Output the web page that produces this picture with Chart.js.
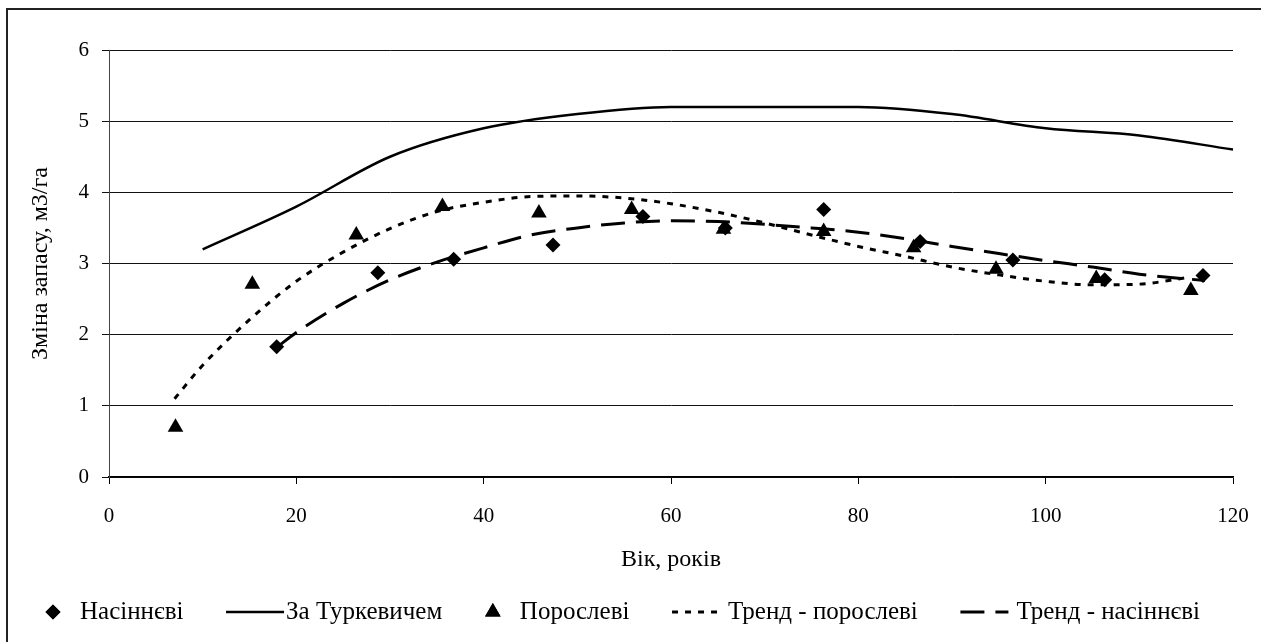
<!DOCTYPE html>
<html>
<head>
<meta charset="utf-8">
<script src="https://cdn.jsdelivr.net/npm/chart.js@4"></script>
<style>
    html, body { margin: 0; padding: 0; background: #fff; }
    #wrap { width: 1261px; height: 642px; position: relative; }
</style>
</head>
<body>
<div id="wrap"><canvas id="chart" width="1261" height="642"></canvas></div>
<script>
// Насіннєві (seed origin) - observed points
const seedAge = [17.9, 28.7, 36.8, 47.4, 57.0, 65.8, 76.3, 86.6, 96.5, 106.3, 116.8];
const seedVal = [1.83, 2.87, 3.06, 3.26, 3.66, 3.50, 3.76, 3.31, 3.05, 2.77, 2.83];

// Порослеві (coppice origin) - observed points
const coppAge = [7.1, 15.3, 26.4, 35.6, 45.9, 55.8, 65.6, 76.3, 85.9, 94.7, 105.4, 115.5];
const coppVal = [0.70, 2.71, 3.40, 3.80, 3.71, 3.76, 3.48, 3.45, 3.22, 2.92, 2.79, 2.62];

// За Туркевичем
const turkAge = [10, 20, 30, 40, 50, 60, 70, 80, 90, 100, 110, 120];
const turkVal = [3.2, 3.8, 4.5, 4.9, 5.1, 5.2, 5.2, 5.2, 5.1, 4.9, 4.8, 4.6];

// Тренд - порослеві
const trendCoppAge = [7, 10, 15, 20, 25, 30, 35, 40, 45, 50, 55, 60, 65, 70, 75, 80, 85, 90, 95, 100, 105, 110, 115];
const trendCoppVal = [1.10, 1.57, 2.21, 2.75, 3.16, 3.49, 3.73, 3.86, 3.94, 3.95, 3.92, 3.84, 3.72, 3.57, 3.40, 3.24, 3.10, 2.95, 2.84, 2.75, 2.70, 2.71, 2.80];

// Тренд - насіннєві
const trendSeedAge = [18, 20, 25, 30, 35, 40, 45, 50, 55, 60, 65, 70, 75, 80, 85, 90, 95, 100, 105, 110, 117];
const trendSeedVal = [1.83, 2.03, 2.44, 2.77, 3.02, 3.22, 3.40, 3.50, 3.57, 3.60, 3.59, 3.55, 3.50, 3.44, 3.35, 3.24, 3.14, 3.04, 2.95, 2.85, 2.76];

const xTicks = [0, 20, 40, 60, 80, 100, 120];
const yTicks = [0, 1, 2, 3, 4, 5, 6];

const FONT = "'Liberation Serif', 'Times New Roman', serif";

function toPoints(xs, ys) {
    return xs.map((x, i) => ({ x: x, y: ys[i] }));
}

// White background and the partial outer frame (left + top)
const framePlugin = {
    id: 'frame',
    beforeDraw(chart) {
        const ctx = chart.ctx;
        ctx.save();
        ctx.fillStyle = '#fff';
        ctx.fillRect(0, 0, chart.width, chart.height);
        ctx.strokeStyle = '#222';
        ctx.lineWidth = 2;
        ctx.beginPath();
        ctx.moveTo(7, chart.height);
        ctx.lineTo(7, 9);
        ctx.lineTo(chart.width, 9);
        ctx.stroke();
        ctx.restore();
    }
};

// Legend drawn by hand so markers and line samples can have different widths
const legendPlugin = {
    id: 'rowLegend',
    afterDraw(chart) {
        const ctx = chart.ctx;
        const y = 612;
        const left = 45, right = 1200;
        ctx.save();
        ctx.font = '25px ' + FONT;
        ctx.textBaseline = 'middle';
        ctx.fillStyle = '#000';

        const items = chart.data.datasets.map(ds => {
            const isLine = ds.showLine;
            const symW = isLine ? (ds.borderDash ? 48 : 58) : 16;
            const gap = isLine ? (ds.borderDash ? 8 : 2) : 19;
            return { ds, isLine, symW, gap, textW: ctx.measureText(ds.label).width };
        });
        const used = items.reduce((s, it) => s + it.symW + it.gap + it.textW, 0);
        const between = (right - left - used) / (items.length - 1);

        let x = left;
        items.forEach(it => {
            const ds = it.ds;
            if (it.isLine) {
                ctx.strokeStyle = ds.borderColor;
                ctx.lineWidth = ds.borderWidth;
                ctx.setLineDash(ds.borderDash || []);
                ctx.beginPath();
                ctx.moveTo(x, y);
                ctx.lineTo(x + it.symW, y);
                ctx.stroke();
                ctx.setLineDash([]);
            } else {
                Chart.helpers.drawPoint(ctx, {
                    pointStyle: ds.pointStyle,
                    radius: ds.pointRadius,
                    rotation: 0,
                    borderWidth: 0
                }, x + it.symW / 2, y);
                ctx.fillStyle = '#000';
                ctx.fill();
            }
            x += it.symW + it.gap;
            ctx.fillStyle = '#000';
            ctx.fillText(ds.label, x, y);
            x += it.textW + between;
        });
        ctx.restore();
    }
};

const ctx = document.getElementById('chart').getContext('2d');
const chart = new Chart(ctx, {
    type: 'scatter',
    data: {
        datasets: [
            {
                label: 'Насіннєві',
                data: toPoints(seedAge, seedVal),
                pointStyle: 'rectRot',
                pointRadius: 7.5,
                backgroundColor: '#000',
                borderColor: '#000',
                borderWidth: 0,
                showLine: false
            },
            {
                label: 'За Туркевичем',
                data: toPoints(turkAge, turkVal),
                pointRadius: 0,
                borderColor: '#000',
                backgroundColor: '#000',
                borderWidth: 2.5,
                showLine: true,
                cubicInterpolationMode: 'monotone'
            },
            {
                label: 'Порослеві',
                data: toPoints(coppAge, coppVal),
                pointStyle: 'triangle',
                pointRadius: 9,
                backgroundColor: '#000',
                borderColor: '#000',
                borderWidth: 0,
                showLine: false
            },
            {
                label: 'Тренд - порослеві',
                data: toPoints(trendCoppAge, trendCoppVal),
                pointRadius: 0,
                borderColor: '#000',
                backgroundColor: '#000',
                borderWidth: 3,
                borderDash: [6, 7],
                showLine: true,
                cubicInterpolationMode: 'monotone'
            },
            {
                label: 'Тренд - насіннєві',
                data: toPoints(trendSeedAge, trendSeedVal),
                pointRadius: 0,
                borderColor: '#000',
                backgroundColor: '#000',
                borderWidth: 3,
                borderDash: [24, 11],
                showLine: true,
                cubicInterpolationMode: 'monotone'
            }
        ]
    },
    options: {
        responsive: false,
        animation: false,
        layout: { padding: { left: 0, right: 28, top: 50, bottom: 65 } },
        plugins: {
            tooltip: { enabled: false },
            legend: { display: false }
        },
        scales: {
            x: {
                type: 'linear',
                min: 0,
                max: 120,
                afterBuildTicks: (scale) => { scale.ticks = xTicks.map(v => ({ value: v })); },
                afterFit: (scale) => {
                    scale.height = 100;
                    scale.paddingLeft = 0;
                    scale.paddingRight = 0;
                },
                ticks: { color: '#000', font: { family: FONT, size: 21 }, padding: 20 },
                grid: { drawOnChartArea: false, drawTicks: true, tickLength: 7, color: '#000' },
                border: { display: true, color: '#000', width: 1.5 },
                title: {
                    display: true,
                    text: 'Вік, років',
                    color: '#000',
                    font: { family: FONT, size: 24 },
                    padding: { top: 10, bottom: 3 }
                }
            },
            y: {
                type: 'linear',
                min: 0,
                max: 6,
                afterBuildTicks: (scale) => { scale.ticks = yTicks.map(v => ({ value: v })); },
                afterFit: (scale) => { scale.width = 109; },
                ticks: { color: '#000', font: { family: FONT, size: 21 }, padding: 13 },
                grid: { color: '#111', lineWidth: 1, tickLength: 7 },
                border: { display: true, color: '#444', width: 1 },
                title: {
                    display: true,
                    text: 'Зміна запасу, м3/га',
                    color: '#000',
                    font: { family: FONT, size: 24 },
                    padding: { top: 26, bottom: 0 }
                }
            }
        }
    },
    plugins: [framePlugin, legendPlugin]
});
</script>
</body>
</html>
